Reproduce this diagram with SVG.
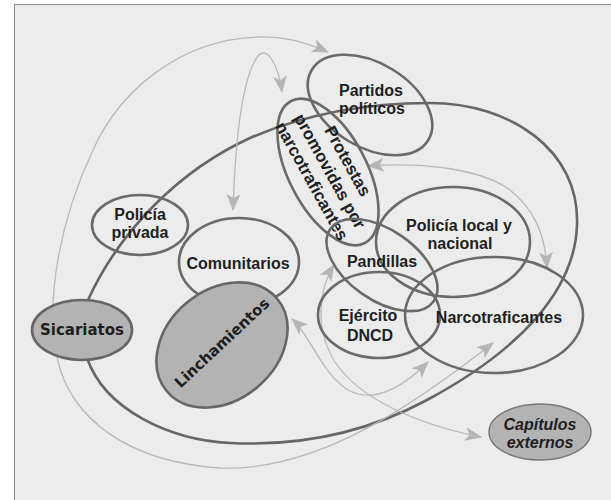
<svg xmlns="http://www.w3.org/2000/svg" width="611" height="500" viewBox="0 0 611 500">
<defs>
<style>
.n{fill:none;stroke:#6a6a6a;stroke-width:2.6}
.f{fill:#b3b3b3;stroke:#666;stroke-width:2.6}
.t{font-family:"Liberation Sans",Arial,sans-serif;font-weight:bold;font-size:16px;fill:#1e1e1e;text-anchor:middle}
.v{font-family:"DejaVu Sans",Verdana,sans-serif;font-weight:bold;font-size:15px;fill:#1e1e1e;text-anchor:middle}
.a{fill:none;stroke:#b8b8b8;stroke-width:1.3;marker-start:url(#ah);marker-end:url(#ah)}
.loop{fill:none;stroke:#666;stroke-width:2.6}
</style>
<marker id="ah" viewBox="0 0 16 13" refX="15" refY="6.5" markerWidth="17" markerHeight="14" markerUnits="userSpaceOnUse" orient="auto-start-reverse">
<path d="M0,0 L16,6.5 L0,13 L4,6.5 z" fill="#b5b5b5"/>
</marker>
</defs>
<rect x="0" y="0" width="611" height="500" fill="#ffffff"/>
<rect x="14.5" y="4.5" width="620" height="520" fill="#ececec" stroke="#8c8c8c" stroke-width="1"/>

<g id="connectors">
<path class="loop" d="M88,300 C120,230 180,170 250,138 C310,112 370,103 430,103 C510,103 580,150 577,225 C575,290 520,350 427,400 C360,436 290,446 230,443 C170,440 105,410 87,358"/>
<circle cx="87" cy="358" r="2" fill="#111"/>
<path class="a" d="M328,52 C300,40 280,36 257,37 C180,40 120,90 93,150 C60,220 45,300 57,357 C70,420 130,462 220,468 C320,472 420,400 493,343"/>
<path class="a" d="M233,210 C235,150 240,80 258,56 C266,46 278,62 282,92"/>
<path class="a" d="M368,166 C420,162 480,168 510,190 C535,210 545,235 547,268"/>
<path class="a" d="M334,265 C318,290 315,330 335,362 C360,400 420,425 481,437"/>
<path class="a" d="M292,319 C310,335 320,370 345,388 C370,405 400,390 428,362"/>
</g>

<g id="partidos">
<ellipse class="n" cx="370" cy="105" rx="68" ry="42" transform="rotate(31 370 105)"/>
<text class="t" x="371" y="96">Partidos</text>
<text class="t" x="372" y="114">políticos</text>
</g>
<g id="protestas">
<ellipse class="n" cx="328" cy="172" rx="80" ry="39" transform="rotate(62.6 328 172)"/>
<g transform="translate(330,171) rotate(61)">
<text class="t" style="font-size:17px" x="0" y="-14.5">Protestas</text>
<text class="t" style="font-size:17px" x="0" y="6">promovidas por</text>
<text class="t" style="font-size:17px" x="0" y="26.5">narcotraficantes</text>
</g>
</g>
<g id="policia-privada">
<ellipse class="n" cx="140" cy="225" rx="48" ry="30"/>
<text class="t" x="140" y="220">Policía</text>
<text class="t" x="140" y="238">privada</text>
</g>
<g id="comunitarios">
<ellipse class="n" cx="239" cy="262" rx="60" ry="44"/>
<text class="t" x="238" y="269">Comunitarios</text>
</g>
<g id="policia-local">
<ellipse class="n" cx="453" cy="242" rx="77" ry="55"/>
<text class="t" x="459" y="231">Policía local y</text>
<text class="t" x="460" y="249">nacional</text>
</g>
<g id="pandillas">
<ellipse class="n" cx="382" cy="265" rx="63" ry="35" transform="rotate(35 382 265)"/>
<text class="t" x="382" y="267">Pandillas</text>
</g>
<g id="ejercito">
<ellipse class="n" cx="379" cy="315" rx="61" ry="43"/>
<text class="t" x="368" y="321">Ejército</text>
<text class="t" x="370" y="341">DNCD</text>
</g>
<g id="narcotraficantes">
<ellipse class="n" cx="494" cy="315" rx="89" ry="58"/>
<text class="t" x="499" y="323">Narcotraficantes</text>
</g>
<g id="sicariatos">
<ellipse class="f" cx="82" cy="330" rx="50" ry="30"/>
<text class="v" x="82" y="335">Sicariatos</text>
</g>
<g id="linchamientos">
<ellipse class="f" cx="222" cy="345" rx="72" ry="55" transform="rotate(-40 222 345)"/>
<text class="v" x="0" y="5" transform="translate(222,343) rotate(-43)">Linchamientos</text>
</g>
<g id="capitulos">
<ellipse cx="540" cy="432" rx="51" ry="28" fill="#b3b3b3" stroke="#777" stroke-width="1.5"/>
<text class="t" x="540" y="430" font-style="italic">Capítulos</text>
<text class="t" x="540" y="448" font-style="italic">externos</text>
</g>
</svg>
